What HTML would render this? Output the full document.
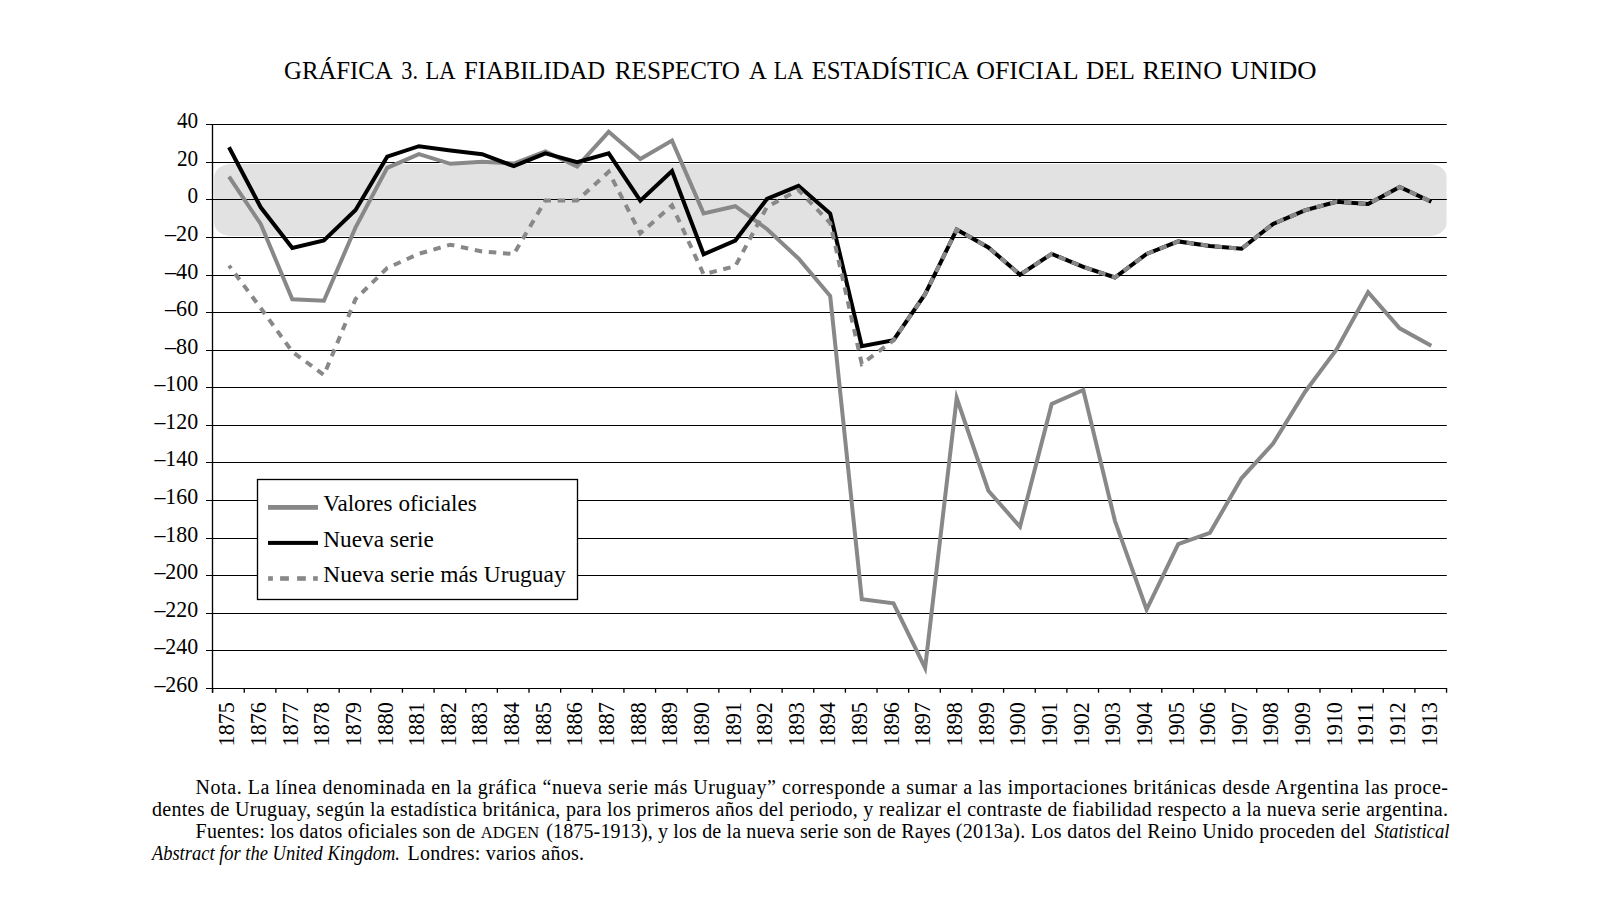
<!DOCTYPE html>
<html><head><meta charset="utf-8"><style>
html,body{margin:0;padding:0;background:#fff;width:1600px;height:900px;overflow:hidden}
svg{display:block}
text{font-family:"Liberation Serif",serif;fill:#000}
</style></head><body>
<svg width="1600" height="900" viewBox="0 0 1600 900">
<rect x="214.2" y="164" width="1232.3" height="72" rx="17" ry="13" fill="#e2e2e2"/>
<line x1="206" y1="124.50" x2="1446.8" y2="124.50" stroke="#000" stroke-width="1.2"/>
<text x="198.2" y="128.10" text-anchor="end" font-size="23.8" textLength="21.2" lengthAdjust="spacingAndGlyphs">40</text>
<line x1="206" y1="162.50" x2="1446.8" y2="162.50" stroke="#000" stroke-width="1.2"/>
<text x="198.2" y="166.10" text-anchor="end" font-size="23.8" textLength="21.2" lengthAdjust="spacingAndGlyphs">20</text>
<line x1="206" y1="199.50" x2="1446.8" y2="199.50" stroke="#000" stroke-width="1.2"/>
<text x="198.2" y="203.10" text-anchor="end" font-size="23.8" textLength="10.6" lengthAdjust="spacingAndGlyphs">0</text>
<line x1="206" y1="237.50" x2="1446.8" y2="237.50" stroke="#000" stroke-width="1.2"/>
<text x="198.2" y="241.10" text-anchor="end" font-size="23.8" textLength="33.2" lengthAdjust="spacingAndGlyphs">–20</text>
<line x1="206" y1="275.50" x2="1446.8" y2="275.50" stroke="#000" stroke-width="1.2"/>
<text x="198.2" y="279.10" text-anchor="end" font-size="23.8" textLength="33.2" lengthAdjust="spacingAndGlyphs">–40</text>
<line x1="206" y1="312.50" x2="1446.8" y2="312.50" stroke="#000" stroke-width="1.2"/>
<text x="198.2" y="316.10" text-anchor="end" font-size="23.8" textLength="33.2" lengthAdjust="spacingAndGlyphs">–60</text>
<line x1="206" y1="350.50" x2="1446.8" y2="350.50" stroke="#000" stroke-width="1.2"/>
<text x="198.2" y="354.10" text-anchor="end" font-size="23.8" textLength="33.2" lengthAdjust="spacingAndGlyphs">–80</text>
<line x1="206" y1="387.50" x2="1446.8" y2="387.50" stroke="#000" stroke-width="1.2"/>
<text x="198.2" y="391.10" text-anchor="end" font-size="23.8" textLength="43.8" lengthAdjust="spacingAndGlyphs">–100</text>
<line x1="206" y1="425.50" x2="1446.8" y2="425.50" stroke="#000" stroke-width="1.2"/>
<text x="198.2" y="429.10" text-anchor="end" font-size="23.8" textLength="43.8" lengthAdjust="spacingAndGlyphs">–120</text>
<line x1="206" y1="462.50" x2="1446.8" y2="462.50" stroke="#000" stroke-width="1.2"/>
<text x="198.2" y="466.10" text-anchor="end" font-size="23.8" textLength="43.8" lengthAdjust="spacingAndGlyphs">–140</text>
<line x1="206" y1="500.50" x2="1446.8" y2="500.50" stroke="#000" stroke-width="1.2"/>
<text x="198.2" y="504.10" text-anchor="end" font-size="23.8" textLength="43.8" lengthAdjust="spacingAndGlyphs">–160</text>
<line x1="206" y1="538.50" x2="1446.8" y2="538.50" stroke="#000" stroke-width="1.2"/>
<text x="198.2" y="542.10" text-anchor="end" font-size="23.8" textLength="43.8" lengthAdjust="spacingAndGlyphs">–180</text>
<line x1="206" y1="575.50" x2="1446.8" y2="575.50" stroke="#000" stroke-width="1.2"/>
<text x="198.2" y="579.10" text-anchor="end" font-size="23.8" textLength="43.8" lengthAdjust="spacingAndGlyphs">–200</text>
<line x1="206" y1="613.50" x2="1446.8" y2="613.50" stroke="#000" stroke-width="1.2"/>
<text x="198.2" y="617.10" text-anchor="end" font-size="23.8" textLength="43.8" lengthAdjust="spacingAndGlyphs">–220</text>
<line x1="206" y1="650.50" x2="1446.8" y2="650.50" stroke="#000" stroke-width="1.2"/>
<text x="198.2" y="654.10" text-anchor="end" font-size="23.8" textLength="43.8" lengthAdjust="spacingAndGlyphs">–240</text>
<line x1="206" y1="688.50" x2="1446.8" y2="688.50" stroke="#000" stroke-width="1.2"/>
<text x="198.2" y="692.10" text-anchor="end" font-size="23.8" textLength="43.8" lengthAdjust="spacingAndGlyphs">–260</text>
<line x1="212.5" y1="124" x2="212.5" y2="692.7" stroke="#000" stroke-width="1.33"/>
<line x1="212.60" y1="688" x2="212.60" y2="692.7" stroke="#000" stroke-width="1.33"/>
<line x1="244.24" y1="688" x2="244.24" y2="692.7" stroke="#000" stroke-width="1.33"/>
<line x1="275.88" y1="688" x2="275.88" y2="692.7" stroke="#000" stroke-width="1.33"/>
<line x1="307.52" y1="688" x2="307.52" y2="692.7" stroke="#000" stroke-width="1.33"/>
<line x1="339.16" y1="688" x2="339.16" y2="692.7" stroke="#000" stroke-width="1.33"/>
<line x1="370.80" y1="688" x2="370.80" y2="692.7" stroke="#000" stroke-width="1.33"/>
<line x1="402.44" y1="688" x2="402.44" y2="692.7" stroke="#000" stroke-width="1.33"/>
<line x1="434.08" y1="688" x2="434.08" y2="692.7" stroke="#000" stroke-width="1.33"/>
<line x1="465.72" y1="688" x2="465.72" y2="692.7" stroke="#000" stroke-width="1.33"/>
<line x1="497.36" y1="688" x2="497.36" y2="692.7" stroke="#000" stroke-width="1.33"/>
<line x1="529.00" y1="688" x2="529.00" y2="692.7" stroke="#000" stroke-width="1.33"/>
<line x1="560.64" y1="688" x2="560.64" y2="692.7" stroke="#000" stroke-width="1.33"/>
<line x1="592.28" y1="688" x2="592.28" y2="692.7" stroke="#000" stroke-width="1.33"/>
<line x1="623.92" y1="688" x2="623.92" y2="692.7" stroke="#000" stroke-width="1.33"/>
<line x1="655.56" y1="688" x2="655.56" y2="692.7" stroke="#000" stroke-width="1.33"/>
<line x1="687.20" y1="688" x2="687.20" y2="692.7" stroke="#000" stroke-width="1.33"/>
<line x1="718.84" y1="688" x2="718.84" y2="692.7" stroke="#000" stroke-width="1.33"/>
<line x1="750.48" y1="688" x2="750.48" y2="692.7" stroke="#000" stroke-width="1.33"/>
<line x1="782.12" y1="688" x2="782.12" y2="692.7" stroke="#000" stroke-width="1.33"/>
<line x1="813.76" y1="688" x2="813.76" y2="692.7" stroke="#000" stroke-width="1.33"/>
<line x1="845.40" y1="688" x2="845.40" y2="692.7" stroke="#000" stroke-width="1.33"/>
<line x1="877.04" y1="688" x2="877.04" y2="692.7" stroke="#000" stroke-width="1.33"/>
<line x1="908.68" y1="688" x2="908.68" y2="692.7" stroke="#000" stroke-width="1.33"/>
<line x1="940.32" y1="688" x2="940.32" y2="692.7" stroke="#000" stroke-width="1.33"/>
<line x1="971.96" y1="688" x2="971.96" y2="692.7" stroke="#000" stroke-width="1.33"/>
<line x1="1003.60" y1="688" x2="1003.60" y2="692.7" stroke="#000" stroke-width="1.33"/>
<line x1="1035.24" y1="688" x2="1035.24" y2="692.7" stroke="#000" stroke-width="1.33"/>
<line x1="1066.88" y1="688" x2="1066.88" y2="692.7" stroke="#000" stroke-width="1.33"/>
<line x1="1098.52" y1="688" x2="1098.52" y2="692.7" stroke="#000" stroke-width="1.33"/>
<line x1="1130.16" y1="688" x2="1130.16" y2="692.7" stroke="#000" stroke-width="1.33"/>
<line x1="1161.80" y1="688" x2="1161.80" y2="692.7" stroke="#000" stroke-width="1.33"/>
<line x1="1193.44" y1="688" x2="1193.44" y2="692.7" stroke="#000" stroke-width="1.33"/>
<line x1="1225.08" y1="688" x2="1225.08" y2="692.7" stroke="#000" stroke-width="1.33"/>
<line x1="1256.72" y1="688" x2="1256.72" y2="692.7" stroke="#000" stroke-width="1.33"/>
<line x1="1288.36" y1="688" x2="1288.36" y2="692.7" stroke="#000" stroke-width="1.33"/>
<line x1="1320.00" y1="688" x2="1320.00" y2="692.7" stroke="#000" stroke-width="1.33"/>
<line x1="1351.64" y1="688" x2="1351.64" y2="692.7" stroke="#000" stroke-width="1.33"/>
<line x1="1383.28" y1="688" x2="1383.28" y2="692.7" stroke="#000" stroke-width="1.33"/>
<line x1="1414.92" y1="688" x2="1414.92" y2="692.7" stroke="#000" stroke-width="1.33"/>
<line x1="1446.56" y1="688" x2="1446.56" y2="692.7" stroke="#000" stroke-width="1.33"/>
<text transform="translate(234.32,746.4) rotate(-90)" font-size="23" textLength="44.2" lengthAdjust="spacingAndGlyphs">1875</text>
<text transform="translate(265.96,746.4) rotate(-90)" font-size="23" textLength="44.2" lengthAdjust="spacingAndGlyphs">1876</text>
<text transform="translate(297.60,746.4) rotate(-90)" font-size="23" textLength="44.2" lengthAdjust="spacingAndGlyphs">1877</text>
<text transform="translate(329.24,746.4) rotate(-90)" font-size="23" textLength="44.2" lengthAdjust="spacingAndGlyphs">1878</text>
<text transform="translate(360.88,746.4) rotate(-90)" font-size="23" textLength="44.2" lengthAdjust="spacingAndGlyphs">1879</text>
<text transform="translate(392.52,746.4) rotate(-90)" font-size="23" textLength="44.2" lengthAdjust="spacingAndGlyphs">1880</text>
<text transform="translate(424.16,746.4) rotate(-90)" font-size="23" textLength="44.2" lengthAdjust="spacingAndGlyphs">1881</text>
<text transform="translate(455.80,746.4) rotate(-90)" font-size="23" textLength="44.2" lengthAdjust="spacingAndGlyphs">1882</text>
<text transform="translate(487.44,746.4) rotate(-90)" font-size="23" textLength="44.2" lengthAdjust="spacingAndGlyphs">1883</text>
<text transform="translate(519.08,746.4) rotate(-90)" font-size="23" textLength="44.2" lengthAdjust="spacingAndGlyphs">1884</text>
<text transform="translate(550.72,746.4) rotate(-90)" font-size="23" textLength="44.2" lengthAdjust="spacingAndGlyphs">1885</text>
<text transform="translate(582.36,746.4) rotate(-90)" font-size="23" textLength="44.2" lengthAdjust="spacingAndGlyphs">1886</text>
<text transform="translate(614.00,746.4) rotate(-90)" font-size="23" textLength="44.2" lengthAdjust="spacingAndGlyphs">1887</text>
<text transform="translate(645.64,746.4) rotate(-90)" font-size="23" textLength="44.2" lengthAdjust="spacingAndGlyphs">1888</text>
<text transform="translate(677.28,746.4) rotate(-90)" font-size="23" textLength="44.2" lengthAdjust="spacingAndGlyphs">1889</text>
<text transform="translate(708.92,746.4) rotate(-90)" font-size="23" textLength="44.2" lengthAdjust="spacingAndGlyphs">1890</text>
<text transform="translate(740.56,746.4) rotate(-90)" font-size="23" textLength="44.2" lengthAdjust="spacingAndGlyphs">1891</text>
<text transform="translate(772.20,746.4) rotate(-90)" font-size="23" textLength="44.2" lengthAdjust="spacingAndGlyphs">1892</text>
<text transform="translate(803.84,746.4) rotate(-90)" font-size="23" textLength="44.2" lengthAdjust="spacingAndGlyphs">1893</text>
<text transform="translate(835.48,746.4) rotate(-90)" font-size="23" textLength="44.2" lengthAdjust="spacingAndGlyphs">1894</text>
<text transform="translate(867.12,746.4) rotate(-90)" font-size="23" textLength="44.2" lengthAdjust="spacingAndGlyphs">1895</text>
<text transform="translate(898.76,746.4) rotate(-90)" font-size="23" textLength="44.2" lengthAdjust="spacingAndGlyphs">1896</text>
<text transform="translate(930.40,746.4) rotate(-90)" font-size="23" textLength="44.2" lengthAdjust="spacingAndGlyphs">1897</text>
<text transform="translate(962.04,746.4) rotate(-90)" font-size="23" textLength="44.2" lengthAdjust="spacingAndGlyphs">1898</text>
<text transform="translate(993.68,746.4) rotate(-90)" font-size="23" textLength="44.2" lengthAdjust="spacingAndGlyphs">1899</text>
<text transform="translate(1025.32,746.4) rotate(-90)" font-size="23" textLength="44.2" lengthAdjust="spacingAndGlyphs">1900</text>
<text transform="translate(1056.96,746.4) rotate(-90)" font-size="23" textLength="44.2" lengthAdjust="spacingAndGlyphs">1901</text>
<text transform="translate(1088.60,746.4) rotate(-90)" font-size="23" textLength="44.2" lengthAdjust="spacingAndGlyphs">1902</text>
<text transform="translate(1120.24,746.4) rotate(-90)" font-size="23" textLength="44.2" lengthAdjust="spacingAndGlyphs">1903</text>
<text transform="translate(1151.88,746.4) rotate(-90)" font-size="23" textLength="44.2" lengthAdjust="spacingAndGlyphs">1904</text>
<text transform="translate(1183.52,746.4) rotate(-90)" font-size="23" textLength="44.2" lengthAdjust="spacingAndGlyphs">1905</text>
<text transform="translate(1215.16,746.4) rotate(-90)" font-size="23" textLength="44.2" lengthAdjust="spacingAndGlyphs">1906</text>
<text transform="translate(1246.80,746.4) rotate(-90)" font-size="23" textLength="44.2" lengthAdjust="spacingAndGlyphs">1907</text>
<text transform="translate(1278.44,746.4) rotate(-90)" font-size="23" textLength="44.2" lengthAdjust="spacingAndGlyphs">1908</text>
<text transform="translate(1310.08,746.4) rotate(-90)" font-size="23" textLength="44.2" lengthAdjust="spacingAndGlyphs">1909</text>
<text transform="translate(1341.72,746.4) rotate(-90)" font-size="23" textLength="44.2" lengthAdjust="spacingAndGlyphs">1910</text>
<text transform="translate(1373.36,746.4) rotate(-90)" font-size="23" textLength="44.2" lengthAdjust="spacingAndGlyphs">1911</text>
<text transform="translate(1405.00,746.4) rotate(-90)" font-size="23" textLength="44.2" lengthAdjust="spacingAndGlyphs">1912</text>
<text transform="translate(1436.64,746.4) rotate(-90)" font-size="23" textLength="44.2" lengthAdjust="spacingAndGlyphs">1913</text>
<polyline points="229.0,176.7 260.7,224.0 292.3,299.2 323.9,300.8 355.6,227.3 387.2,167.8 418.9,154.2 450.5,163.8 482.1,161.7 513.8,163.5 545.4,151.5 577.1,166.5 608.7,131.8 640.3,159.0 672.0,140.6 703.6,213.4 735.3,206.2 766.9,229.0 798.5,258.5 830.2,296.0 861.8,599.3 893.5,603.3 925.1,668.0 956.7,398.0 988.4,490.7 1020.0,526.7 1051.7,404.0 1083.3,390.0 1114.9,520.8 1146.6,609.5 1178.2,544.1 1209.9,532.8 1241.5,478.3 1273.1,443.6 1304.8,392.2 1336.4,349.7 1368.1,292.3 1399.7,328.3 1431.3,345.8" fill="none" stroke="#888" stroke-width="4" stroke-miterlimit="10"/>
<polyline points="229.0,147.3 260.7,207.3 292.3,248.0 323.9,240.4 355.6,210.0 387.2,156.7 418.9,146.2 450.5,150.5 482.1,154.2 513.8,166.2 545.4,153.4 577.1,162.2 608.7,153.4 640.3,200.6 672.0,171.0 703.6,254.3 735.3,240.5 766.9,199.0 798.5,185.8 830.2,213.5 861.8,346.2 893.5,340.1 925.1,294.2 956.7,229.6 988.4,247.4 1020.0,274.7 1051.7,253.9 1083.3,266.9 1114.9,277.5 1146.6,253.9 1178.2,241.4 1209.9,245.9 1241.5,248.8 1273.1,223.9 1304.8,210.4 1336.4,201.7 1368.1,204.0 1399.7,187.0 1431.3,201.7" fill="none" stroke="#000" stroke-width="4" stroke-miterlimit="10"/>
<polyline points="229.0,265.6 260.7,308.0 292.3,351.7 323.9,375.0 355.6,299.0 387.2,268.0 418.9,253.8 450.5,244.7 482.1,251.5 513.8,254.0 545.4,200.6 577.1,200.6 608.7,171.8 640.3,233.4 672.0,205.4 703.6,274.3 735.3,266.2 766.9,207.0 798.5,190.0 830.2,223.0 861.8,363.9 893.5,340.4 925.1,294.2 956.7,229.6 988.4,247.4 1020.0,274.7 1051.7,253.9 1083.3,266.9 1114.9,277.5 1146.6,253.9 1178.2,241.4 1209.9,245.9 1241.5,248.8 1273.1,223.9 1304.8,210.4 1336.4,201.7 1368.1,204.0 1399.7,187.0 1431.3,201.7" fill="none" stroke="#888" stroke-width="4" stroke-miterlimit="10" stroke-dasharray="7.5 6.7" stroke-dashoffset="4"/>
<rect x="257.5" y="479.5" width="320" height="120" fill="#fff" stroke="#000" stroke-width="1.33"/>
<rect x="268" y="505" width="50" height="4.8" fill="#888"/>
<rect x="268" y="540.9" width="50" height="4" fill="#000"/>
<rect x="268.1" y="576.2" width="4.8" height="4.6" fill="#888"/>
<rect x="280.1" y="576.2" width="8.8" height="4.6" fill="#888"/>
<rect x="297.1" y="576.2" width="8.7" height="4.6" fill="#888"/>
<rect x="313.1" y="576.2" width="4.7" height="4.6" fill="#888"/>
<text x="323.3" y="511.2" font-size="24" textLength="153.4" lengthAdjust="spacingAndGlyphs">Valores oficiales</text>
<text x="323.3" y="546.9" font-size="24" textLength="110.5" lengthAdjust="spacingAndGlyphs">Nueva serie</text>
<text x="323.3" y="581.9" font-size="24" textLength="242.3" lengthAdjust="spacingAndGlyphs">Nueva serie más Uruguay</text>
<text x="284.1" y="78.9" font-size="24.9" textLength="108.65" lengthAdjust="spacingAndGlyphs">GRÁFICA</text>
<text x="401.3" y="78.9" font-size="24.9" textLength="16.7" lengthAdjust="spacingAndGlyphs">3.</text>
<text x="425.6" y="78.9" font-size="24.9" textLength="29.99" lengthAdjust="spacingAndGlyphs">LA</text>
<text x="464.0" y="78.9" font-size="24.9" textLength="141.03" lengthAdjust="spacingAndGlyphs">FIABILIDAD</text>
<text x="614.8" y="78.9" font-size="24.9" textLength="125.2" lengthAdjust="spacingAndGlyphs">RESPECTO</text>
<text x="749.0" y="78.9" font-size="24.9" textLength="17.73" lengthAdjust="spacingAndGlyphs">A</text>
<text x="773.7" y="78.9" font-size="24.9" textLength="29.49" lengthAdjust="spacingAndGlyphs">LA</text>
<text x="811.7" y="78.9" font-size="24.9" textLength="157.55" lengthAdjust="spacingAndGlyphs">ESTADÍSTICA</text>
<text x="976.2" y="78.9" font-size="24.9" textLength="102.36" lengthAdjust="spacingAndGlyphs">OFICIAL</text>
<text x="1086.0" y="78.9" font-size="24.9" textLength="48.95" lengthAdjust="spacingAndGlyphs">DEL</text>
<text x="1142.4" y="78.9" font-size="24.9" textLength="79.63" lengthAdjust="spacingAndGlyphs">REINO</text>
<text x="1230.6" y="78.9" font-size="24.9" textLength="86.03" lengthAdjust="spacingAndGlyphs">UNIDO</text>
<text x="195.6" y="794.4" font-size="20" textLength="1252.4" lengthAdjust="spacing">Nota. La línea denominada en la gráfica “nueva serie más Uruguay” corresponde a sumar a las importaciones británicas desde Argentina las proce-</text>
<text x="151.9" y="816.3" font-size="20" textLength="1296.1" lengthAdjust="spacing">dentes de Uruguay, según la estadística británica, para los primeros años del periodo, y realizar el contraste de fiabilidad respecto a la nueva serie argentina.</text>
<text x="195.6" y="838.1" font-size="20" textLength="343.60" lengthAdjust="spacing">Fuentes: los datos oficiales son de <tspan font-size="16.5">ADGEN</tspan></text>
<text x="546.25" y="838.1" font-size="20" textLength="404.40" lengthAdjust="spacing">(1875-1913), y los de la nueva serie son de Rayes</text>
<text x="955.7" y="838.1" font-size="20" textLength="410.00" lengthAdjust="spacing">(2013a). Los datos del Reino Unido proceden del</text>
<text x="1374.5" y="838.1" font-size="20" font-style="italic" textLength="75.00" lengthAdjust="spacingAndGlyphs">Statistical</text>
<text x="151.9" y="860" font-size="20" font-style="italic" textLength="248" lengthAdjust="spacingAndGlyphs">Abstract for the United Kingdom.</text>
<text x="407.5" y="860" font-size="20" textLength="176.5" lengthAdjust="spacing">Londres: varios años.</text>
</svg>
</body></html>
